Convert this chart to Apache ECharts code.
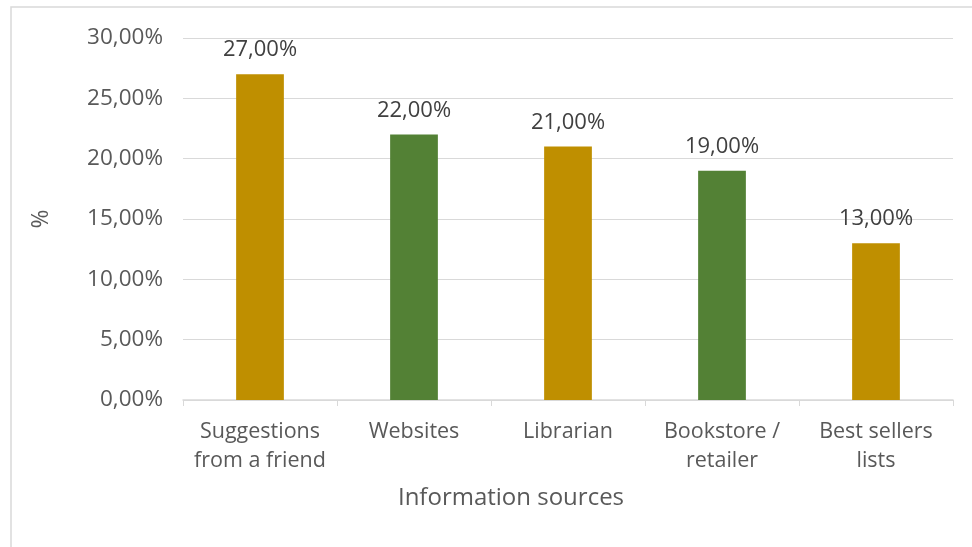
<!DOCTYPE html>
<html>
<head>
<meta charset="utf-8">
<script src="https://cdn.jsdelivr.net/npm/echarts@6/dist/echarts.min.js"></script>
<style>
  body { margin: 0; background: #fff; }
  #chart { width: 972px; height: 547px; }
</style>
</head>
<body>
<div id="chart"></div>
<script>
// categories and values (percent)
const categories = ['Suggestions\nfrom a friend', 'Websites', 'Librarian', 'Bookstore /\nretailer', 'Best sellers\nlists']
const values = [27, 22, 21, 19, 13]
const barColors = ['#BF8F00', '#538135', '#BF8F00', '#538135', '#BF8F00']

const fmt = v => v.toFixed(2).replace('.', ',') + '%'

const chart = echarts.init(document.getElementById('chart'))
chart.setOption({
  animation: false,
  textStyle: { fontFamily: '"Open Sans", sans-serif' },
  graphic: [{
    type: 'rect',
    shape: { x: 11, y: 7, width: 1000, height: 600 },
    style: { fill: 'none', stroke: '#d9d9d9', lineWidth: 1.5 },
    silent: true
  }],
  grid: { left: 183, right: 19, top: 38, bottom: 147 },
  xAxis: {
    type: 'category',
    data: categories,
    name: 'Information sources',
    nameLocation: 'middle',
    nameGap: 86,
    nameTextStyle: { fontSize: 24, color: '#595959', padding: [0, 114, 0, 0] },
    axisLine: { lineStyle: { color: '#d9d9d9', width: 1.5 } },
    axisTick: { show: true, interval: 0, length: 6, lineStyle: { color: '#d9d9d9' } },
    axisLabel: { interval: 0, fontSize: 21.5, color: '#595959', lineHeight: 29, margin: 17 }
  },
  yAxis: {
    type: 'value',
    min: 0,
    max: 30,
    interval: 5,
    name: '%',
    nameLocation: 'middle',
    nameGap: 130,
    nameTextStyle: { fontSize: 23, color: '#595959' },
    axisLine: { show: false },
    axisTick: { show: false },
    axisLabel: { fontSize: 22.5, color: '#595959', margin: 20, formatter: v => fmt(v) },
    splitLine: { lineStyle: { color: '#d9d9d9', width: 1.2 } }
  },
  series: [{
    type: 'bar',
    barWidth: '31%',
    data: values.map((v, i) => ({ value: v, itemStyle: { color: barColors[i] } })),
    label: {
      show: true,
      position: 'top',
      distance: 13,
      fontSize: 22,
      color: '#404040',
      formatter: p => fmt(p.value)
    }
  }]
})
</script>
</body>
</html>
